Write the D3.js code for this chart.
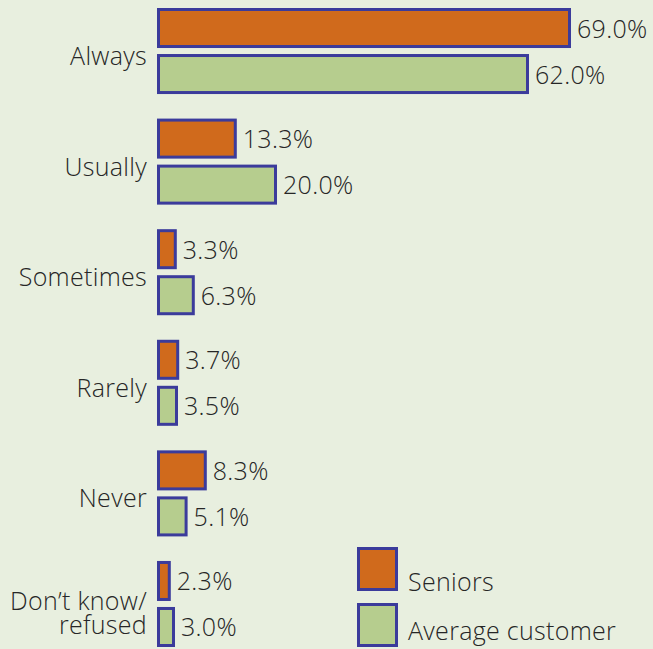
<!DOCTYPE html>
<html>
<head>
<meta charset="utf-8">
<script src="https://cdn.jsdelivr.net/npm/d3@7"></script>
<style>
  html, body { margin: 0; padding: 0; background: #e8efdf; }
  svg { display: block; }
  text { font-family: "Open Sans", "DejaVu Sans", sans-serif; font-weight: 300; letter-spacing: 0.3px; fill: #262626; }
</style>
</head>
<body>
<svg id="chart" width="653" height="649"></svg>
<script>
// Survey responses by category, seniors vs. average customer (percent)
const categories = ["Always", "Usually", "Sometimes", "Rarely", "Never", "Don\u2019t know/\nrefused"];
const seriesNames = ["Seniors", "Average customer"];
const seniors = [69.0, 13.3, 3.3, 3.7, 8.3, 2.3];
const average = [62.0, 20.0, 6.3, 3.5, 5.1, 3.0];
const colors = ["#d06a1c", "#b6cd8e"];
const borderColor = "#3b3b9b";

const svg = d3.select("#chart");
const x0 = 157;
const fontSize = 25;

const x = d3.scaleLinear().domain([0, 100]).range([x0, x0 + 600]);
const y = d3.scaleBand().domain(categories).range([8, 647]).paddingInner(0.222).paddingOuter(0);
const ySub = d3.scaleBand().domain(seriesNames).range([0, y.bandwidth()]).paddingInner(0.1304);

const rows = categories.map((c, i) => ({ cat: c, vals: [seniors[i], average[i]] }));

const g = svg.selectAll("g.cat").data(rows).join("g")
  .attr("class", "cat")
  .attr("transform", d => `translate(0,${y(d.cat)})`);

const sw = 3;
g.selectAll("rect").data(d => d.vals.map((v, j) => ({ v, s: seriesNames[j], j })))
  .join("rect")
  .attr("x", x(0) + sw / 2)
  .attr("y", d => ySub(d.s) + sw / 2)
  .attr("width", d => x(d.v) - x(0) - sw)
  .attr("height", ySub.bandwidth() - sw)
  .attr("fill", d => colors[d.j])
  .attr("stroke", borderColor)
  .attr("stroke-width", sw);

// Value labels just past the end of each bar
g.selectAll("text.val").data(d => d.vals.map((v, j) => ({ v, s: seriesNames[j] })))
  .join("text")
  .attr("class", "val")
  .attr("x", d => x(d.v) + 6)
  .attr("y", d => ySub(d.s) + ySub.bandwidth() / 2 + 9.5)
  .attr("font-size", fontSize)
  .text(d => d.v.toFixed(1) + "%");

// Category labels, right-aligned against the bars
g.each(function (d) {
  const lines = d.cat.split("\n");
  const n = lines.length;
  const t = d3.select(this).append("text")
    .attr("text-anchor", "end")
    .attr("font-size", fontSize);
  const mid = y.bandwidth() / 2;
  lines.forEach((line, k) => {
    t.append("tspan")
      .attr("x", 147)
      .attr("y", mid + 14 - (n - 1) * 8 + k * 24)
      .text(line);
  });
});

// Legend
const legend = svg.append("g").attr("transform", "translate(357,547)");
seriesNames.forEach((s, j) => {
  legend.append("rect")
    .attr("x", sw / 2).attr("y", j * 56 + sw / 2)
    .attr("width", 41 - sw).attr("height", 44 - sw)
    .attr("fill", colors[j]).attr("stroke", borderColor).attr("stroke-width", sw);
  legend.append("text")
    .attr("x", 51).attr("y", 44 + j * 49)
    .attr("font-size", fontSize)
    .text(s);
});
</script>
</body>
</html>
